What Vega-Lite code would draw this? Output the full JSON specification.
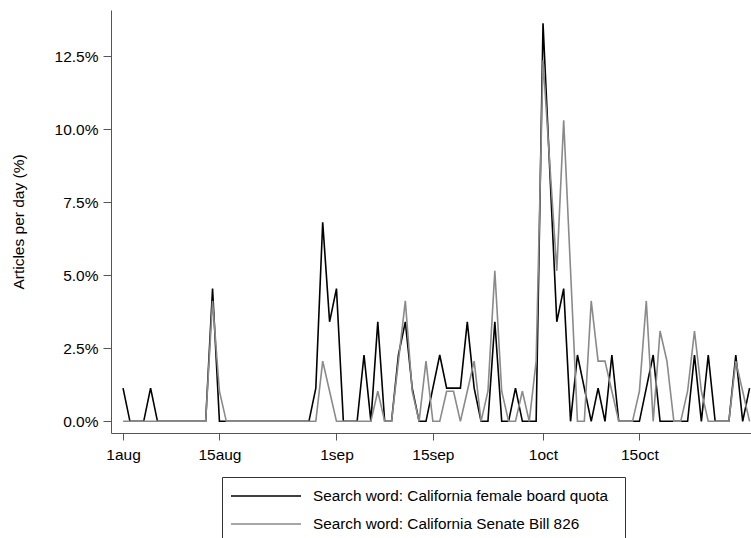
{
  "$schema": "https://vega.github.io/schema/vega-lite/v6.json",
  "autosize": "none",
  "width": 640,
  "height": 423,
  "padding": {"left": 111, "top": 10, "right": 0, "bottom": 105},
  "background": "white",
  "config": {
    "view": {"stroke": null},
    "font": "Liberation Sans",
    "axis": {
      "domainColor": "#555555",
      "tickColor": "#555555",
      "labelColor": "black",
      "labelFont": "Liberation Sans",
      "labelFontSize": 15.5,
      "titleFont": "Liberation Sans",
      "titleFontSize": 15.5,
      "titleFontWeight": "normal",
      "titleColor": "black",
      "grid": false,
      "domainWidth": 1,
      "tickWidth": 1
    }
  },
  "data": {
    "values": [
      {"d": "2018-08-01", "quota": 1.136, "sb826": 0},
      {"d": "2018-08-02", "quota": 0, "sb826": 0},
      {"d": "2018-08-03", "quota": 0, "sb826": 0},
      {"d": "2018-08-04", "quota": 0, "sb826": 0},
      {"d": "2018-08-05", "quota": 1.136, "sb826": 0},
      {"d": "2018-08-06", "quota": 0, "sb826": 0},
      {"d": "2018-08-07", "quota": 0, "sb826": 0},
      {"d": "2018-08-08", "quota": 0, "sb826": 0},
      {"d": "2018-08-09", "quota": 0, "sb826": 0},
      {"d": "2018-08-10", "quota": 0, "sb826": 0},
      {"d": "2018-08-11", "quota": 0, "sb826": 0},
      {"d": "2018-08-12", "quota": 0, "sb826": 0},
      {"d": "2018-08-13", "quota": 0, "sb826": 0},
      {"d": "2018-08-14", "quota": 4.545, "sb826": 4.124},
      {"d": "2018-08-15", "quota": 0, "sb826": 1.031},
      {"d": "2018-08-16", "quota": 0, "sb826": 0},
      {"d": "2018-08-17", "quota": 0, "sb826": 0},
      {"d": "2018-08-18", "quota": 0, "sb826": 0},
      {"d": "2018-08-19", "quota": 0, "sb826": 0},
      {"d": "2018-08-20", "quota": 0, "sb826": 0},
      {"d": "2018-08-21", "quota": 0, "sb826": 0},
      {"d": "2018-08-22", "quota": 0, "sb826": 0},
      {"d": "2018-08-23", "quota": 0, "sb826": 0},
      {"d": "2018-08-24", "quota": 0, "sb826": 0},
      {"d": "2018-08-25", "quota": 0, "sb826": 0},
      {"d": "2018-08-26", "quota": 0, "sb826": 0},
      {"d": "2018-08-27", "quota": 0, "sb826": 0},
      {"d": "2018-08-28", "quota": 0, "sb826": 0},
      {"d": "2018-08-29", "quota": 1.136, "sb826": 0},
      {"d": "2018-08-30", "quota": 6.818, "sb826": 2.062},
      {"d": "2018-08-31", "quota": 3.409, "sb826": 1.031},
      {"d": "2018-09-01", "quota": 4.545, "sb826": 0},
      {"d": "2018-09-02", "quota": 0, "sb826": 0},
      {"d": "2018-09-03", "quota": 0, "sb826": 0},
      {"d": "2018-09-04", "quota": 0, "sb826": 0},
      {"d": "2018-09-05", "quota": 2.273, "sb826": 0},
      {"d": "2018-09-06", "quota": 0, "sb826": 0},
      {"d": "2018-09-07", "quota": 3.409, "sb826": 1.031},
      {"d": "2018-09-08", "quota": 0, "sb826": 0},
      {"d": "2018-09-09", "quota": 0, "sb826": 0},
      {"d": "2018-09-10", "quota": 2.273, "sb826": 2.062},
      {"d": "2018-09-11", "quota": 3.409, "sb826": 4.124},
      {"d": "2018-09-12", "quota": 1.136, "sb826": 1.031},
      {"d": "2018-09-13", "quota": 0, "sb826": 0},
      {"d": "2018-09-14", "quota": 0, "sb826": 2.062},
      {"d": "2018-09-15", "quota": 1.136, "sb826": 0},
      {"d": "2018-09-16", "quota": 2.273, "sb826": 0},
      {"d": "2018-09-17", "quota": 1.136, "sb826": 1.031},
      {"d": "2018-09-18", "quota": 1.136, "sb826": 1.031},
      {"d": "2018-09-19", "quota": 1.136, "sb826": 0},
      {"d": "2018-09-20", "quota": 3.409, "sb826": 1.031},
      {"d": "2018-09-21", "quota": 1.136, "sb826": 2.062},
      {"d": "2018-09-22", "quota": 0, "sb826": 0},
      {"d": "2018-09-23", "quota": 0, "sb826": 1.031},
      {"d": "2018-09-24", "quota": 3.409, "sb826": 5.155},
      {"d": "2018-09-25", "quota": 0, "sb826": 1.031},
      {"d": "2018-09-26", "quota": 0, "sb826": 0},
      {"d": "2018-09-27", "quota": 1.136, "sb826": 0},
      {"d": "2018-09-28", "quota": 0, "sb826": 1.031},
      {"d": "2018-09-29", "quota": 0, "sb826": 0},
      {"d": "2018-09-30", "quota": 0, "sb826": 2.062},
      {"d": "2018-10-01", "quota": 13.636, "sb826": 12.371},
      {"d": "2018-10-02", "quota": 8.52, "sb826": 8.763},
      {"d": "2018-10-03", "quota": 3.409, "sb826": 5.155},
      {"d": "2018-10-04", "quota": 4.545, "sb826": 10.309},
      {"d": "2018-10-05", "quota": 0, "sb826": 5.155},
      {"d": "2018-10-06", "quota": 2.273, "sb826": 0},
      {"d": "2018-10-07", "quota": 1.136, "sb826": 0},
      {"d": "2018-10-08", "quota": 0, "sb826": 4.124},
      {"d": "2018-10-09", "quota": 1.136, "sb826": 2.062},
      {"d": "2018-10-10", "quota": 0, "sb826": 2.062},
      {"d": "2018-10-11", "quota": 2.273, "sb826": 1.031},
      {"d": "2018-10-12", "quota": 0, "sb826": 0},
      {"d": "2018-10-13", "quota": 0, "sb826": 0},
      {"d": "2018-10-14", "quota": 0, "sb826": 0},
      {"d": "2018-10-15", "quota": 0, "sb826": 1.031},
      {"d": "2018-10-16", "quota": 1.136, "sb826": 4.124},
      {"d": "2018-10-17", "quota": 2.273, "sb826": 0},
      {"d": "2018-10-18", "quota": 0, "sb826": 3.093},
      {"d": "2018-10-19", "quota": 0, "sb826": 2.062},
      {"d": "2018-10-20", "quota": 0, "sb826": 0},
      {"d": "2018-10-21", "quota": 0, "sb826": 0},
      {"d": "2018-10-22", "quota": 0, "sb826": 1.031},
      {"d": "2018-10-23", "quota": 2.273, "sb826": 3.093},
      {"d": "2018-10-24", "quota": 0, "sb826": 1.031},
      {"d": "2018-10-25", "quota": 2.273, "sb826": 0},
      {"d": "2018-10-26", "quota": 0, "sb826": 0},
      {"d": "2018-10-27", "quota": 0, "sb826": 0},
      {"d": "2018-10-28", "quota": 0, "sb826": 0},
      {"d": "2018-10-29", "quota": 2.273, "sb826": 2.062},
      {"d": "2018-10-30", "quota": 0, "sb826": 1.031},
      {"d": "2018-10-31", "quota": 1.136, "sb826": 0}
    ]
  },
  "transform": [{"fold": ["quota", "sb826"], "as": ["s", "v"]}],
  "mark": {"type": "line", "strokeWidth": 1.6, "interpolate": "linear"},
  "encoding": {
    "x": {
      "field": "d",
      "type": "temporal",
      "scale": {
        "type": "utc",
        "domain": [
          {"year": 2018, "month": 7, "date": 30, "hours": 6, "utc": true},
          {"year": 2018, "month": 10, "date": 31, "hours": 5, "utc": true}
        ]
      },
      "axis": {
        "title": null,
        "values": [
          {"year": 2018, "month": 8, "date": 1, "utc": true},
          {"year": 2018, "month": 8, "date": 15, "utc": true},
          {"year": 2018, "month": 9, "date": 1, "utc": true},
          {"year": 2018, "month": 9, "date": 15, "utc": true},
          {"year": 2018, "month": 10, "date": 1, "utc": true},
          {"year": 2018, "month": 10, "date": 15, "utc": true}
        ],
        "labelExpr": "lower(utcFormat(datum.value, '%-d%b'))",
        "tickSize": 7,
        "labelPadding": 7,
        "labelFlush": false,
        "labelOverlap": false
      }
    },
    "y": {
      "field": "v",
      "type": "quantitative",
      "scale": {"domain": [-0.4, 14.09], "nice": false, "zero": false},
      "axis": {
        "title": "Articles per day (%)",
        "values": [0, 2.5, 5, 7.5, 10, 12.5],
        "labelExpr": "format(datum.value, '.1f') + '%'",
        "tickSize": 8,
        "labelPadding": 5,
        "titlePadding": 28
      }
    },
    "color": {
      "field": "s",
      "type": "nominal",
      "scale": {"domain": ["quota", "sb826"], "range": ["#000000", "#8a8a8a"]},
      "legend": {
        "title": null,
        "orient": "none",
        "legendX": 111,
        "legendY": 467,
        "direction": "vertical",
        "strokeColor": "#333333",
        "padding": 5,
        "symbolType": "M-0.77,0L4.615,0",
        "symbolSize": 676,
        "symbolStrokeWidth": 1.6,
        "symbolFillColor": "transparent",
        "labelOffset": 58,
        "labelFontSize": 15.3,
        "labelFont": "Liberation Sans",
        "labelColor": "black",
        "labelLimit": 0,
        "rowPadding": 5,
        "labelExpr": "datum.label == 'quota' ? 'Search word: California female board quota\u2800' : 'Search word: California Senate Bill 826'"
      }
    }
  }
}
